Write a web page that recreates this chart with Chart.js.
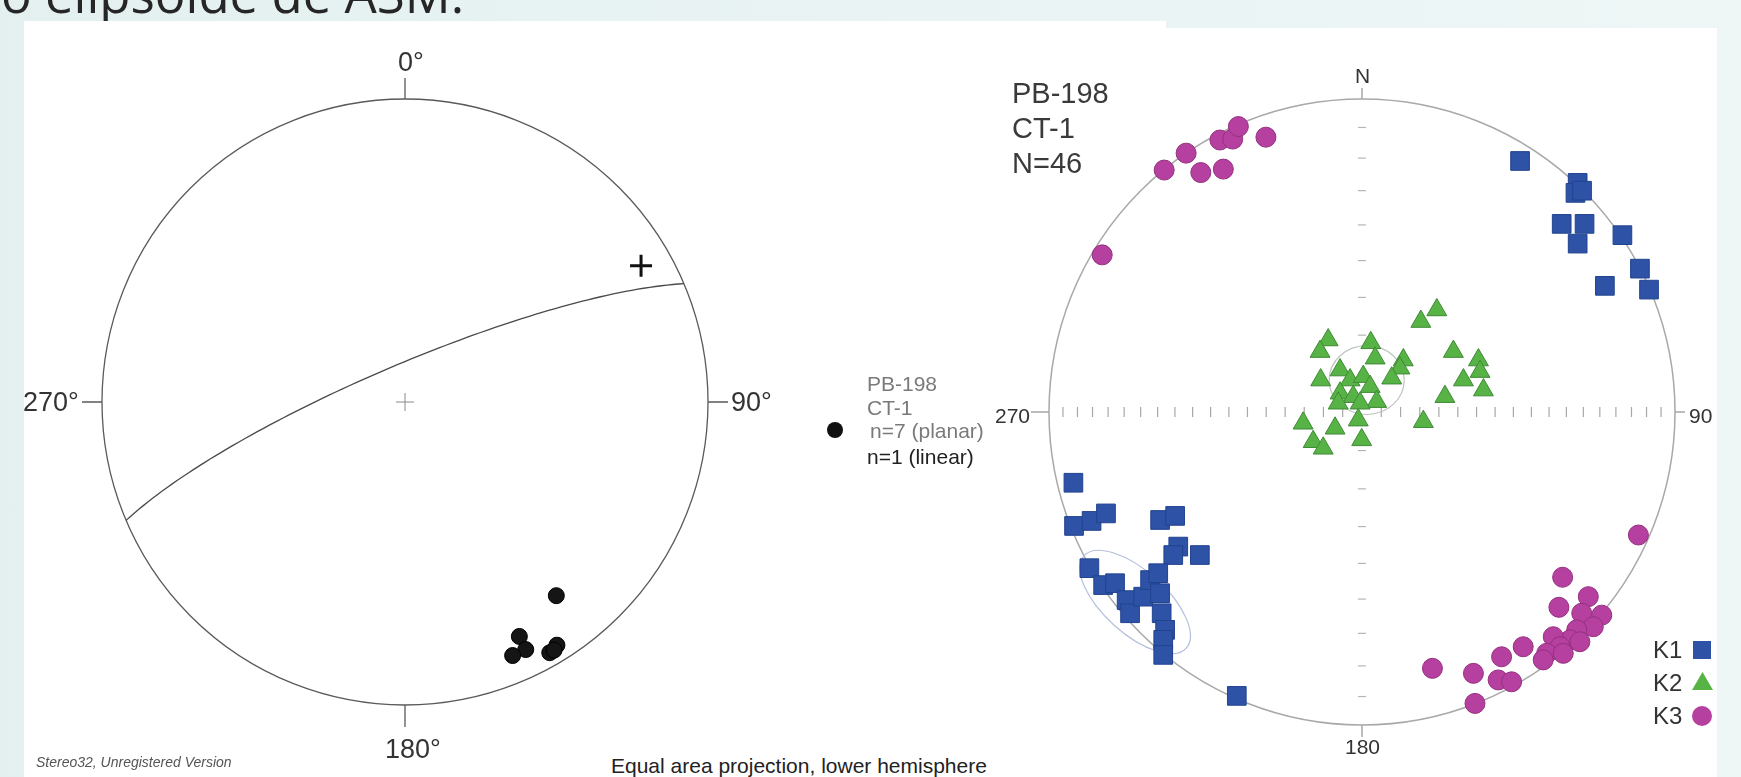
<!DOCTYPE html>
<html>
<head>
<meta charset="utf-8">
<script src="https://cdn.jsdelivr.net/npm/chart.js@4.4.0/dist/chart.umd.min.js"></script>
<style>
  body { margin: 0; width: 1741px; height: 777px; overflow: hidden; position: relative;
         background: linear-gradient(90deg, #e4f0f0, #eef6f6);
         font-family: "Liberation Sans", Arial, sans-serif; color: #333; }
  .panel { position: absolute; background: #fff; }
  .txt { position: absolute; white-space: nowrap; line-height: 1; }
  canvas { position: absolute; }
  #title { left: 1px; top: -32px; font: 51px "Open Sans", sans-serif; color: #262626; line-height: 1; }
  .lbl { font-size: 27px; color: #333; }
  .rl { font-size: 21px; color: #333; }
  .leg { font-size: 21px; color: #7a7a7a; }
  .sn { font-size: 29px; color: #3a3a3a; }
  .kk { font-size: 24px; color: #333; }
</style>
</head>
<body>
<div class="txt" id="title">o elipsoide de ASM.</div>
<div class="panel" style="left:24px;top:21px;width:1142px;height:756px"></div>
<div class="panel" style="left:1166px;top:28px;width:551px;height:749px"></div>

<canvas id="leftNet" width="686" height="686" style="left:62px;top:59px"></canvas>
<canvas id="rightNet" width="706" height="706" style="left:1009px;top:59px"></canvas>

<!-- left net labels -->
<div class="txt lbl" style="left:398px;top:49px">0°</div>
<div class="txt lbl" style="left:731px;top:389px">90°</div>
<div class="txt lbl" style="left:385px;top:736px">180°</div>
<div class="txt lbl" style="left:23px;top:389px">270°</div>

<div id="leftDot" style="position:absolute;left:827px;top:422px;width:16px;height:16px;border-radius:50%;background:#111"></div>
<div class="txt leg" style="left:867px;top:373px">PB-198</div>
<div class="txt leg" style="left:867px;top:397px">CT-1</div>
<div class="txt leg" style="left:870px;top:420px">n=7 (planar)</div>
<div class="txt leg" style="left:867px;top:446px;color:#222">n=1 (linear)</div>

<div class="txt" style="left:36px;top:755px;font-size:14px;font-style:italic;color:#555">Stereo32, Unregistered Version</div>
<div class="txt" style="left:611px;top:755px;font-size:21px;color:#222">Equal area projection, lower hemisphere</div>

<!-- right net labels -->
<div class="txt rl" style="left:1355px;top:65px">N</div>
<div class="txt rl" style="left:1689px;top:405px">90</div>
<div class="txt rl" style="left:1345px;top:736px">180</div>
<div class="txt rl" style="left:995px;top:405px">270</div>

<div class="txt sn" style="left:1012px;top:79px">PB-198</div>
<div class="txt sn" style="left:1012px;top:114px">CT-1</div>
<div class="txt sn" style="left:1012px;top:149px">N=46</div>

<div class="txt kk" style="left:1653px;top:638px">K1</div>
<div class="txt kk" style="left:1653px;top:671px">K2</div>
<div class="txt kk" style="left:1653px;top:704px">K3</div>
<div style="position:absolute;left:1693px;top:641px;width:18px;height:18px;background:#2d52a6"></div>
<div style="position:absolute;left:1692px;top:672px;width:21px;height:18px;background:#58b347;clip-path:polygon(50% 0,100% 100%,0 100%)"></div>
<div style="position:absolute;left:1692px;top:706px;width:20px;height:20px;border-radius:50%;background:#b6409f"></div>

<script>
// ---- left net: planar fabric (trend / plunge, degrees) ----
const poleTrend = [142, 154, 154, 157, 148, 150, 149];
const polePlunge = [20, 15, 10, 10, 6, 5, 5];
const lineationTrend = [60];
const lineationPlunge = [11];
const planeDipDir = [337];
const planeDip = [80];

// ---- right net: AMS axes (equal-area x = east, y = north, radius 1) ----
const k1 = [
  [0.505, 0.802], [0.689, 0.732], [0.682, 0.700], [0.703, 0.707], [0.638, 0.601],
  [0.711, 0.601], [0.689, 0.538], [0.832, 0.565], [0.888, 0.458], [0.776, 0.403],
  [0.917, 0.391],
  [-0.922, -0.226], [-0.920, -0.364], [-0.864, -0.348], [-0.818, -0.324], [-0.645, -0.345],
  [-0.597, -0.332], [-0.587, -0.430], [-0.603, -0.457], [-0.518, -0.457], [-0.871, -0.499],
  [-0.827, -0.553], [-0.789, -0.547], [-0.752, -0.601], [-0.741, -0.643], [-0.699, -0.590],
  [-0.677, -0.537], [-0.651, -0.515], [-0.645, -0.579], [-0.640, -0.643], [-0.629, -0.696],
  [-0.635, -0.728], [-0.635, -0.776], [-0.400, -0.907]
];
const k2 = [
  [0.239, 0.326], [0.188, 0.289], [-0.108, 0.230], [-0.134, 0.193], [0.028, 0.221],
  [0.042, 0.172], [0.132, 0.166], [0.121, 0.140], [0.095, 0.108], [0.292, 0.193],
  [0.372, 0.166], [0.377, 0.129], [0.324, 0.102], [0.388, 0.070], [0.265, 0.049],
  [0.196, -0.031], [-0.132, 0.102], [-0.070, 0.134], [-0.038, 0.102], [0.004, 0.113],
  [0.026, 0.081], [-0.070, 0.060], [-0.028, 0.049], [0.047, 0.033], [-0.076, 0.028],
  [-0.006, 0.028], [-0.188, -0.036], [-0.086, -0.052], [-0.012, -0.026], [-0.156, -0.095],
  [-0.124, -0.116], [-0.001, -0.089]
];
const k3 = [
  [-0.632, 0.773], [-0.562, 0.827], [-0.515, 0.765], [-0.443, 0.776], [-0.454, 0.869],
  [-0.413, 0.872], [-0.395, 0.912], [-0.307, 0.878], [-0.830, 0.502],
  [0.883, -0.393], [0.641, -0.528], [0.629, -0.624], [0.723, -0.590], [0.702, -0.643],
  [0.766, -0.649], [0.739, -0.686], [0.686, -0.696], [0.665, -0.728], [0.611, -0.718],
  [0.696, -0.734], [0.633, -0.750], [0.590, -0.771], [0.579, -0.792], [0.643, -0.771],
  [0.515, -0.750], [0.446, -0.782], [0.435, -0.856], [0.478, -0.862], [0.356, -0.835],
  [0.225, -0.819], [0.361, -0.931]
];
// confidence ellipses: centre x, centre y, semi-axes a, b, rotation (deg)
const k1Cone = [-0.725, -0.607, 0.22, 0.10, 42];
const k2Cone = [0.015, 0.102, 0.12, 0.11, 0];

// net tick marks (plunge, degrees)
const nsTickPlunge = [10, 20, 30, 40, 50, 60, 70, 80];
const ewTickPlunge = [5, 10, 15, 20, 25, 30, 35, 40, 45, 50, 55, 60, 65, 70, 75, 80, 85];

const d2r = Math.PI / 180;
function eqArea(trend, plunge) {
  const r = Math.SQRT2 * Math.sin((90 - plunge) / 2 * d2r);
  return { x: r * Math.sin(trend * d2r), y: r * Math.cos(trend * d2r) };
}

function greatCircle(dipDir, dip) {
  const pts = [];
  const s = (dipDir - 90) * d2r, dd = dipDir * d2r, dp = dip * d2r;
  for (let a = 0; a <= 180; a += 2) {
    const c = Math.cos(a * d2r), sn = Math.sin(a * d2r);
    const e = c * Math.sin(s) + sn * Math.sin(dd) * Math.cos(dp);
    const n = c * Math.cos(s) + sn * Math.cos(dd) * Math.cos(dp);
    const dn = Math.max(0, Math.min(1, sn * Math.sin(dp)));
    pts.push(eqArea(Math.atan2(e, n) / d2r, Math.asin(dn) / d2r));
  }
  return pts;
}

// primitive circle, ticks, cones
const netFrame = {
  id: 'netFrame',
  beforeDatasetsDraw(chart, args, o) {
    const { ctx, scales: { x, y } } = chart;
    const cx = x.getPixelForValue(0), cy = y.getPixelForValue(0);
    const R = x.getPixelForValue(1) - cx;
    ctx.save();
    ctx.strokeStyle = o.color;
    ctx.lineWidth = o.width;
    ctx.beginPath();
    ctx.arc(cx, cy, R, 0, Math.PI * 2);
    ctx.stroke();

    const t = o.outer;
    ctx.beginPath();
    ctx.moveTo(cx, cy - R); ctx.lineTo(cx, cy - R - t[0]);
    ctx.moveTo(cx + R, cy); ctx.lineTo(cx + R + t[1], cy);
    ctx.moveTo(cx, cy + R); ctx.lineTo(cx, cy + R + t[2]);
    ctx.moveTo(cx - R, cy); ctx.lineTo(cx - R - t[3], cy);
    ctx.stroke();

    if (o.cross) {
      ctx.strokeStyle = '#8a8a8a';
      ctx.lineWidth = 1;
      ctx.beginPath();
      ctx.moveTo(cx - 9, cy); ctx.lineTo(cx + 9, cy);
      ctx.moveTo(cx, cy - 9); ctx.lineTo(cx, cy + 9);
      ctx.stroke();
    }

    ctx.lineWidth = 1.2;
    ctx.strokeStyle = '#b5b5b5';
    (o.nsTicks || []).forEach(p => {
      const r = eqArea(0, p).y * R;
      [cy - r, cy + r].forEach(py => {
        ctx.beginPath(); ctx.moveTo(cx - 4, py); ctx.lineTo(cx + 4, py); ctx.stroke();
      });
    });
    ctx.strokeStyle = '#a8a8a8';
    (o.ewTicks || []).forEach(p => {
      const r = eqArea(0, p).y * R;
      [cx - r, cx + r].forEach(px => {
        ctx.beginPath(); ctx.moveTo(px, cy - 5); ctx.lineTo(px, cy + 5); ctx.stroke();
      });
    });

    (o.cones || []).forEach(([ex, ey, a, b, rot, col]) => {
      ctx.strokeStyle = col;
      ctx.lineWidth = 1.2;
      ctx.beginPath();
      ctx.ellipse(x.getPixelForValue(ex), y.getPixelForValue(ey),
        a * R, b * R, rot * d2r, 0, Math.PI * 2);
      ctx.stroke();
    });
    ctx.restore();
  }
};

const netScales = {
  x: { type: 'linear', min: -1, max: 1, display: false },
  y: { type: 'linear', min: -1, max: 1, display: false }
};

function baseOptions(frame) {
  return {
    responsive: false,
    animation: false,
    devicePixelRatio: 1,
    events: [],
    layout: { padding: 40 },
    scales: netScales,
    plugins: { legend: { display: false }, tooltip: { enabled: false }, netFrame: frame }
  };
}

new Chart(document.getElementById('leftNet'), {
  type: 'scatter',
  data: {
    datasets: [
      {
        label: 'lineation',
        data: lineationTrend.map((t, i) => eqArea(t, lineationPlunge[i])),
        pointStyle: 'cross', pointRadius: 11, borderWidth: 3,
        borderColor: '#111', clip: false
      },
      {
        label: 'poles',
        data: poleTrend.map((t, i) => eqArea(t, polePlunge[i])),
        pointStyle: 'circle', pointRadius: 8, borderWidth: 1,
        backgroundColor: '#151515', borderColor: '#000', clip: false
      },
      {
        label: 'plane',
        data: greatCircle(planeDipDir[0], planeDip[0]),
        showLine: true, pointRadius: 0, borderColor: '#4a4a4a', borderWidth: 1.3,
        tension: 0, clip: false
      }
    ]
  },
  options: baseOptions({ color: '#5a5a5a', width: 1.3, outer: [21, 20, 22, 20], cross: true }),
  plugins: [netFrame]
});

new Chart(document.getElementById('rightNet'), {
  type: 'scatter',
  data: {
    datasets: [
      {
        label: 'K3', data: k3.map(([x, y]) => ({ x, y })),
        pointStyle: 'circle', pointRadius: 10, borderWidth: 1,
        backgroundColor: '#b6409f', borderColor: '#93307f', clip: false
      },
      {
        label: 'K2', data: k2.map(([x, y]) => ({ x, y })),
        pointStyle: 'triangle', pointRadius: 11.5, borderWidth: 1,
        backgroundColor: '#58b347', borderColor: '#3f8a34', clip: false
      },
      {
        label: 'K1', data: k1.map(([x, y]) => ({ x, y })),
        pointStyle: 'rect', pointRadius: 13.2, borderWidth: 1,
        backgroundColor: '#2d52a6', borderColor: '#22438f', clip: false
      }
    ]
  },
  options: baseOptions({
    color: '#a8a8a8', width: 1.5, outer: [11, 10, 12, 18],
    nsTicks: nsTickPlunge, ewTicks: ewTickPlunge,
    cones: [[...k1Cone, '#b3bfdc'], [...k2Cone, '#bcc4bc']]
  }),
  plugins: [netFrame]
});
</script>
</body>
</html>
